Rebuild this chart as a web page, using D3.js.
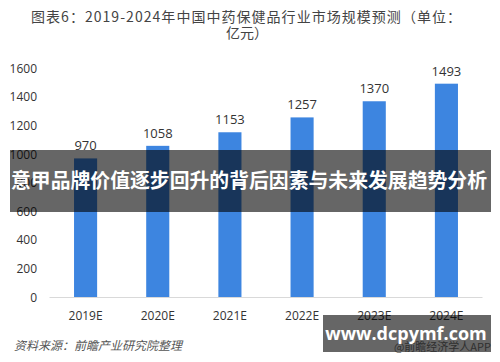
<!DOCTYPE html>
<html><head><meta charset="utf-8">
<script src="https://cdn.jsdelivr.net/npm/d3@7"></script>
<style>body{margin:0;background:#fff}svg{display:block}</style>
</head><body>
<svg id="c" width="500" height="362"></svg>
<script>
const categories = ["2019E","2020E","2021E","2022E","2023E","2024E"];
const values = [970,1058,1153,1257,1370,1493];
const yTicks = [0,200,400,600,800,1000,1200,1400,1600];
const titleLines = ["图表6：2019-2024年中国中药保健品行业市场规模预测（单位：","亿元）"];
const sourceText = "资料来源：前瞻产业研究院整理";
const bannerText = "意甲品牌价值逐步回升的背后因素与未来发展趋势分析";
const watermarkText = "www.dcpymf.com";
const appText = "@前瞻经济学人APP";

const svg = d3.select("#c");
const cjk = "'Noto Sans CJK SC','Noto Sans',sans-serif";
const num = "'Open Sans','Noto Sans',sans-serif";

svg.append("text").attr("x", 246).attr("y", 22)
  .attr("text-anchor","middle").attr("fill","#444")
  .attr("textLength", 430).attr("lengthAdjust","spacing")
  .style("font-family", cjk).style("font-size","14px").text(titleLines[0]);
svg.append("text").attr("x", 247).attr("y", 38)
  .attr("text-anchor","middle").attr("fill","#444")
  .style("font-family", cjk).style("font-size","14px").text(titleLines[1]);

const x = d3.scaleBand().domain(categories).range([49.5,482.5]).paddingInner(0.68).paddingOuter(0.34);
const y = d3.scaleLinear().domain([0,1600]).range([297,68.4]);

svg.append("g").selectAll("text").data(yTicks).join("text")
  .attr("x", 37).attr("y", d=>y(d)+4.5).attr("text-anchor","end")
  .attr("fill","#333").style("font-family",num).style("font-size","12px").text(d=>d);

svg.append("line").attr("x1",49.5).attr("x2",482.5).attr("y1",297.5).attr("y2",297.5)
  .attr("stroke","#d9d9d9").attr("stroke-width",1);

svg.append("g").selectAll("rect").data(values).join("rect")
  .attr("x",(d,i)=>x(categories[i])).attr("width",x.bandwidth())
  .attr("y",d=>y(d)).attr("height",d=>y(0)-y(d))
  .attr("fill","#3d85e0");

svg.append("g").selectAll("text").data(values).join("text")
  .attr("x",(d,i)=>x(categories[i])+x.bandwidth()/2).attr("y",d=>y(d)-8)
  .attr("text-anchor","middle").attr("fill","#333")
  .style("font-family",num).style("font-size","13px").text(d=>d);

svg.append("g").selectAll("text").data(categories).join("text")
  .attr("x",d=>x(d)+x.bandwidth()/2).attr("y",320)
  .attr("text-anchor","middle").attr("fill","#333")
  .style("font-family",num).style("font-size","12px").text(d=>d);

svg.append("text").attr("x",14).attr("y",350).attr("fill","#555")
  .style("font-family",cjk).style("font-size","12px").style("font-style","italic")
  .text(sourceText);

svg.append("text").attr("x",491).attr("y",351).attr("text-anchor","end").attr("fill","#777")
  .style("font-family",cjk).style("font-size","11px").text(appText);

svg.append("rect").attr("x",10).attr("y",150).attr("width",481).attr("height",62)
  .attr("fill","rgba(0,0,0,0.6)");
svg.append("text").attr("x",249).attr("y",188).attr("text-anchor","middle")
  .attr("fill","#fff").attr("textLength",476).attr("lengthAdjust","spacingAndGlyphs")
  .style("font-family",cjk).style("font-size","20px").style("font-weight","bold")
  .text(bannerText);

svg.append("rect").attr("x",323).attr("y",315).attr("width",168).attr("height",37)
  .attr("fill","rgba(0,0,0,0.6)");
svg.append("text").attr("x",406).attr("y",340).attr("text-anchor","middle")
  .attr("fill","#fff").style("font-family",num).style("font-size","18px").style("font-weight","bold")
  .text(watermarkText);
</script>
</body></html>
